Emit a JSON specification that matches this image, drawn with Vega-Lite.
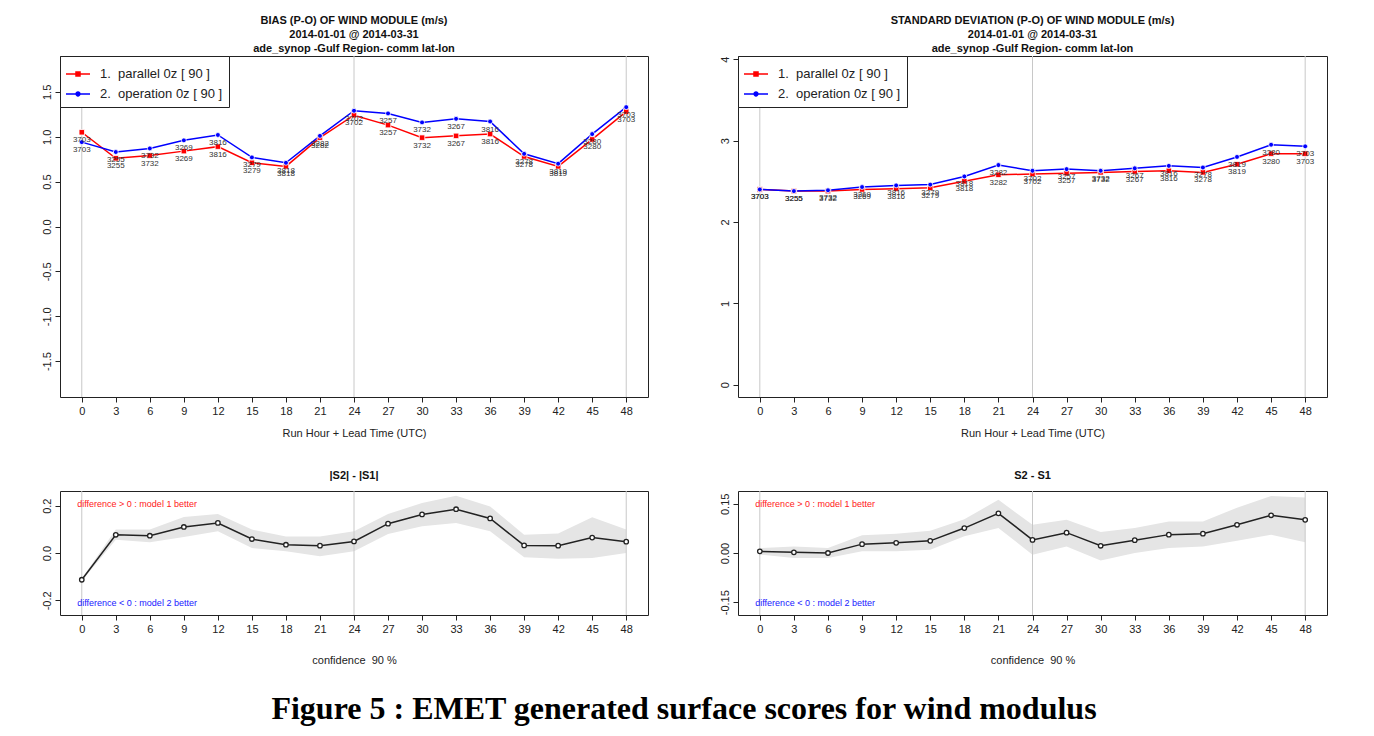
{
  "$schema": "https://vega.github.io/schema/vega-lite/v6.json",
  "background": "white",
  "padding": {"left": 40, "top": 14, "right": 5, "bottom": 5},
  "config": {
    "font": "Liberation Sans",
    "view": {"stroke": "#222", "strokeWidth": 1},
    "axis": {"domain": false, "grid": false, "tickColor": "#222", "tickSize": 5, "labelColor": "#222", "labelFont": "Liberation Sans", "labelFontSize": 11, "titleFont": "Liberation Sans", "titleFontSize": 11, "titleFontWeight": "normal", "titleColor": "#222"},
    "axisX": {"labelPadding": 3},
    "axisY": {"labelAngle": -90, "labelPadding": 3, "title": null, "labelExpr": "replace(datum.label, '\u2212', '-')"},
    "title": {"font": "Liberation Sans", "fontSize": 11, "fontWeight": "bold", "color": "#111", "anchor": "middle", "frame": "group", "lineHeight": 14},
    "legend": {"orient": "top-left", "offset": 0, "padding": 6, "strokeColor": "#222", "fillColor": "white", "labelFont": "Liberation Sans", "labelFontSize": 13, "labelColor": "#222", "symbolSize": 576, "symbolStrokeWidth": 0, "rowPadding": 1, "labelOffset": 10}
  },
  "title": {"text": "Figure 5 : EMET generated surface scores for wind modulus", "orient": "bottom", "font": "Liberation Serif", "fontSize": 32, "fontWeight": "bold", "color": "black", "anchor": "middle", "frame": "bounds", "offset": 28},
  "datasets": {
    "grid": [{"h": 0}, {"h": 24}, {"h": 48}],
    "bias": [
      {"h": 0, "s": "1.\u00a0 parallel 0z [ 90 ]", "v": 1.05, "n": 3703},
      {"h": 3, "s": "1.\u00a0 parallel 0z [ 90 ]", "v": 0.76, "n": 3255},
      {"h": 6, "s": "1.\u00a0 parallel 0z [ 90 ]", "v": 0.79, "n": 3732},
      {"h": 9, "s": "1.\u00a0 parallel 0z [ 90 ]", "v": 0.84, "n": 3269},
      {"h": 12, "s": "1.\u00a0 parallel 0z [ 90 ]", "v": 0.89, "n": 3816},
      {"h": 15, "s": "1.\u00a0 parallel 0z [ 90 ]", "v": 0.71, "n": 3279},
      {"h": 18, "s": "1.\u00a0 parallel 0z [ 90 ]", "v": 0.67, "n": 3818},
      {"h": 21, "s": "1.\u00a0 parallel 0z [ 90 ]", "v": 0.99, "n": 3282},
      {"h": 24, "s": "1.\u00a0 parallel 0z [ 90 ]", "v": 1.24, "n": 3702},
      {"h": 27, "s": "1.\u00a0 parallel 0z [ 90 ]", "v": 1.13, "n": 3257},
      {"h": 30, "s": "1.\u00a0 parallel 0z [ 90 ]", "v": 0.99, "n": 3732},
      {"h": 33, "s": "1.\u00a0 parallel 0z [ 90 ]", "v": 1.01, "n": 3267},
      {"h": 36, "s": "1.\u00a0 parallel 0z [ 90 ]", "v": 1.03, "n": 3816},
      {"h": 39, "s": "1.\u00a0 parallel 0z [ 90 ]", "v": 0.78, "n": 3278},
      {"h": 42, "s": "1.\u00a0 parallel 0z [ 90 ]", "v": 0.67, "n": 3819},
      {"h": 45, "s": "1.\u00a0 parallel 0z [ 90 ]", "v": 0.97, "n": 3280},
      {"h": 48, "s": "1.\u00a0 parallel 0z [ 90 ]", "v": 1.28, "n": 3703},
      {"h": 0, "s": "2.\u00a0 operation 0z [ 90 ]", "v": 0.94, "n": 3703},
      {"h": 3, "s": "2.\u00a0 operation 0z [ 90 ]", "v": 0.83, "n": 3255},
      {"h": 6, "s": "2.\u00a0 operation 0z [ 90 ]", "v": 0.87, "n": 3732},
      {"h": 9, "s": "2.\u00a0 operation 0z [ 90 ]", "v": 0.96, "n": 3269},
      {"h": 12, "s": "2.\u00a0 operation 0z [ 90 ]", "v": 1.02, "n": 3816},
      {"h": 15, "s": "2.\u00a0 operation 0z [ 90 ]", "v": 0.77, "n": 3279},
      {"h": 18, "s": "2.\u00a0 operation 0z [ 90 ]", "v": 0.71, "n": 3818},
      {"h": 21, "s": "2.\u00a0 operation 0z [ 90 ]", "v": 1.01, "n": 3282},
      {"h": 24, "s": "2.\u00a0 operation 0z [ 90 ]", "v": 1.29, "n": 3702},
      {"h": 27, "s": "2.\u00a0 operation 0z [ 90 ]", "v": 1.26, "n": 3257},
      {"h": 30, "s": "2.\u00a0 operation 0z [ 90 ]", "v": 1.16, "n": 3732},
      {"h": 33, "s": "2.\u00a0 operation 0z [ 90 ]", "v": 1.20, "n": 3267},
      {"h": 36, "s": "2.\u00a0 operation 0z [ 90 ]", "v": 1.17, "n": 3816},
      {"h": 39, "s": "2.\u00a0 operation 0z [ 90 ]", "v": 0.81, "n": 3278},
      {"h": 42, "s": "2.\u00a0 operation 0z [ 90 ]", "v": 0.70, "n": 3819},
      {"h": 45, "s": "2.\u00a0 operation 0z [ 90 ]", "v": 1.03, "n": 3280},
      {"h": 48, "s": "2.\u00a0 operation 0z [ 90 ]", "v": 1.33, "n": 3703}
    ],
    "sd": [
      {"h": 0, "s": "1.\u00a0 parallel 0z [ 90 ]", "v": 2.40, "n": 3703},
      {"h": 3, "s": "1.\u00a0 parallel 0z [ 90 ]", "v": 2.38, "n": 3255},
      {"h": 6, "s": "1.\u00a0 parallel 0z [ 90 ]", "v": 2.38, "n": 3732},
      {"h": 9, "s": "1.\u00a0 parallel 0z [ 90 ]", "v": 2.40, "n": 3269},
      {"h": 12, "s": "1.\u00a0 parallel 0z [ 90 ]", "v": 2.41, "n": 3816},
      {"h": 15, "s": "1.\u00a0 parallel 0z [ 90 ]", "v": 2.42, "n": 3279},
      {"h": 18, "s": "1.\u00a0 parallel 0z [ 90 ]", "v": 2.50, "n": 3818},
      {"h": 21, "s": "1.\u00a0 parallel 0z [ 90 ]", "v": 2.58, "n": 3282},
      {"h": 24, "s": "1.\u00a0 parallel 0z [ 90 ]", "v": 2.59, "n": 3702},
      {"h": 27, "s": "1.\u00a0 parallel 0z [ 90 ]", "v": 2.60, "n": 3257},
      {"h": 30, "s": "1.\u00a0 parallel 0z [ 90 ]", "v": 2.61, "n": 3732},
      {"h": 33, "s": "1.\u00a0 parallel 0z [ 90 ]", "v": 2.62, "n": 3267},
      {"h": 36, "s": "1.\u00a0 parallel 0z [ 90 ]", "v": 2.63, "n": 3816},
      {"h": 39, "s": "1.\u00a0 parallel 0z [ 90 ]", "v": 2.61, "n": 3278},
      {"h": 42, "s": "1.\u00a0 parallel 0z [ 90 ]", "v": 2.71, "n": 3819},
      {"h": 45, "s": "1.\u00a0 parallel 0z [ 90 ]", "v": 2.84, "n": 3280},
      {"h": 48, "s": "1.\u00a0 parallel 0z [ 90 ]", "v": 2.84, "n": 3703},
      {"h": 0, "s": "2.\u00a0 operation 0z [ 90 ]", "v": 2.40, "n": 3703},
      {"h": 3, "s": "2.\u00a0 operation 0z [ 90 ]", "v": 2.38, "n": 3255},
      {"h": 6, "s": "2.\u00a0 operation 0z [ 90 ]", "v": 2.39, "n": 3732},
      {"h": 9, "s": "2.\u00a0 operation 0z [ 90 ]", "v": 2.43, "n": 3269},
      {"h": 12, "s": "2.\u00a0 operation 0z [ 90 ]", "v": 2.45, "n": 3816},
      {"h": 15, "s": "2.\u00a0 operation 0z [ 90 ]", "v": 2.46, "n": 3279},
      {"h": 18, "s": "2.\u00a0 operation 0z [ 90 ]", "v": 2.56, "n": 3818},
      {"h": 21, "s": "2.\u00a0 operation 0z [ 90 ]", "v": 2.70, "n": 3282},
      {"h": 24, "s": "2.\u00a0 operation 0z [ 90 ]", "v": 2.63, "n": 3702},
      {"h": 27, "s": "2.\u00a0 operation 0z [ 90 ]", "v": 2.65, "n": 3257},
      {"h": 30, "s": "2.\u00a0 operation 0z [ 90 ]", "v": 2.63, "n": 3732},
      {"h": 33, "s": "2.\u00a0 operation 0z [ 90 ]", "v": 2.66, "n": 3267},
      {"h": 36, "s": "2.\u00a0 operation 0z [ 90 ]", "v": 2.69, "n": 3816},
      {"h": 39, "s": "2.\u00a0 operation 0z [ 90 ]", "v": 2.67, "n": 3278},
      {"h": 42, "s": "2.\u00a0 operation 0z [ 90 ]", "v": 2.80, "n": 3819},
      {"h": 45, "s": "2.\u00a0 operation 0z [ 90 ]", "v": 2.95, "n": 3280},
      {"h": 48, "s": "2.\u00a0 operation 0z [ 90 ]", "v": 2.93, "n": 3703}
    ],
    "dabs": [
      {"h": 0, "v": -0.113, "lo": -0.118, "hi": -0.108},
      {"h": 3, "v": 0.077, "lo": 0.056, "hi": 0.099},
      {"h": 6, "v": 0.073, "lo": 0.045, "hi": 0.099},
      {"h": 9, "v": 0.110, "lo": 0.068, "hi": 0.152},
      {"h": 12, "v": 0.127, "lo": 0.092, "hi": 0.165},
      {"h": 15, "v": 0.059, "lo": 0.021, "hi": 0.099},
      {"h": 18, "v": 0.035, "lo": 0.007, "hi": 0.070},
      {"h": 21, "v": 0.031, "lo": -0.014, "hi": 0.070},
      {"h": 24, "v": 0.049, "lo": 0.007, "hi": 0.092},
      {"h": 27, "v": 0.124, "lo": 0.080, "hi": 0.165},
      {"h": 30, "v": 0.163, "lo": 0.113, "hi": 0.211},
      {"h": 33, "v": 0.185, "lo": 0.127, "hi": 0.242},
      {"h": 36, "v": 0.146, "lo": 0.092, "hi": 0.197},
      {"h": 39, "v": 0.032, "lo": -0.018, "hi": 0.077},
      {"h": 42, "v": 0.031, "lo": -0.024, "hi": 0.082},
      {"h": 45, "v": 0.065, "lo": -0.021, "hi": 0.151},
      {"h": 48, "v": 0.048, "lo": 0.000, "hi": 0.099}
    ],
    "dsd": [
      {"h": 0, "v": 0.005, "lo": -0.005, "hi": 0.015},
      {"h": 3, "v": 0.002, "lo": -0.015, "hi": 0.020},
      {"h": 6, "v": 0.000, "lo": -0.015, "hi": 0.015},
      {"h": 9, "v": 0.027, "lo": 0.005, "hi": 0.054},
      {"h": 12, "v": 0.031, "lo": 0.005, "hi": 0.059},
      {"h": 15, "v": 0.037, "lo": 0.010, "hi": 0.068},
      {"h": 18, "v": 0.076, "lo": 0.051, "hi": 0.103},
      {"h": 21, "v": 0.121, "lo": 0.076, "hi": 0.162},
      {"h": 24, "v": 0.040, "lo": -0.005, "hi": 0.086},
      {"h": 27, "v": 0.062, "lo": 0.020, "hi": 0.101},
      {"h": 30, "v": 0.022, "lo": -0.023, "hi": 0.064},
      {"h": 33, "v": 0.039, "lo": 0.000, "hi": 0.076},
      {"h": 36, "v": 0.056, "lo": 0.015, "hi": 0.096},
      {"h": 39, "v": 0.059, "lo": 0.020, "hi": 0.096},
      {"h": 42, "v": 0.086, "lo": 0.037, "hi": 0.138},
      {"h": 45, "v": 0.115, "lo": 0.056, "hi": 0.174},
      {"h": 48, "v": 0.101, "lo": 0.033, "hi": 0.169}
    ],
    "notesL": [
      {"h": -0.4, "v": 0.205, "k": "pos", "label": "difference > 0 : model 1 better"},
      {"h": -0.4, "v": -0.21, "k": "neg", "label": "difference < 0 : model 2 better"}
    ],
    "notesR": [
      {"h": -0.4, "v": 0.148, "k": "pos", "label": "difference > 0 : model 1 better"},
      {"h": -0.4, "v": -0.152, "k": "neg", "label": "difference < 0 : model 2 better"}
    ]
  },
  "spacing": 30,
  "resolve": {"scale": {"color": "independent", "shape": "independent"}, "legend": {"color": "independent", "shape": "independent"}},
  "vconcat": [
    {
      "spacing": 69,
      "resolve": {"scale": {"color": "independent", "shape": "independent"}, "legend": {"color": "independent", "shape": "independent"}},
      "hconcat": [
        {
          "width": 588, "height": 341,
          "title": {"text": ["BIAS (P-O) OF WIND MODULE (m/s)", "2014-01-01 @ 2014-03-31", "ade_synop -Gulf Region- comm lat-lon"], "offset": 2},
          "encoding": {"x": {"field": "h", "type": "quantitative", "scale": {"domain": [-1.92, 49.92], "nice": false, "zero": false}, "axis": {"values": [0, 3, 6, 9, 12, 15, 18, 21, 24, 27, 30, 33, 36, 39, 42, 45, 48], "title": "Run Hour + Lead Time (UTC)", "titlePadding": 11}}},
          "layer": [
            {"data": {"name": "grid"}, "mark": {"type": "rule", "color": "#c8c8c8", "strokeWidth": 1}},
            {"data": {"values": [{}]}, "mark": {"type": "rule", "color": "#d4d4d4", "strokeWidth": 1.6}, "encoding": {"x": {"datum": -1.92}, "x2": {"datum": 49.92}, "y": {"datum": 0}}},
            {"data": {"name": "bias"}, "transform": [{"filter": "indexof(datum.s, 'parallel') >= 0"}], "mark": {"type": "line", "strokeWidth": 1.5, "color": "#ff0000"},
             "encoding": {"y": {"field": "v", "type": "quantitative", "scale": {"domain": [-1.9, 1.9], "nice": false, "zero": false}, "axis": {"values": [-1.5, -1, -0.5, 0, 0.5, 1, 1.5], "format": ".1f"}}}},
            {"data": {"name": "bias"}, "transform": [{"filter": "indexof(datum.s, 'operation') >= 0"}], "mark": {"type": "line", "strokeWidth": 1.5, "color": "#0000ff"},
             "encoding": {"y": {"field": "v", "type": "quantitative"}}},
            {"data": {"name": "bias"}, "transform": [{"filter": "indexof(datum.s, 'parallel') >= 0"}], "mark": {"type": "point", "shape": "square", "filled": true, "opacity": 1, "size": 30, "color": "#ff0000", "stroke": "white", "strokeWidth": 0.8},
             "encoding": {"y": {"field": "v", "type": "quantitative"}}},
            {"data": {"name": "bias"}, "transform": [{"filter": "indexof(datum.s, 'operation') >= 0"}], "mark": {"type": "point", "shape": "circle", "filled": true, "opacity": 1, "size": 24, "color": "#0000ff", "stroke": "white", "strokeWidth": 0.8},
             "encoding": {"y": {"field": "v", "type": "quantitative"}}},
            {"data": {"name": "bias"}, "mark": {"type": "text", "fontSize": 8, "color": "#333", "dy": 8, "baseline": "middle"},
             "encoding": {"y": {"field": "v", "type": "quantitative"}, "text": {"field": "n", "type": "nominal"}}},
            {"data": {"name": "bias"}, "transform": [{"filter": "false"}], "mark": {"type": "point", "filled": true, "opacity": 1},
             "encoding": {"y": {"field": "v", "type": "quantitative"},
                          "color": {"field": "s", "type": "nominal", "scale": {"domain": ["1.\u00a0 parallel 0z [ 90 ]", "2.\u00a0 operation 0z [ 90 ]"], "range": ["#ff0000", "#0000ff"]}, "legend": {"title": null}},
                          "shape": {"field": "s", "type": "nominal", "scale": {"domain": ["1.\u00a0 parallel 0z [ 90 ]", "2.\u00a0 operation 0z [ 90 ]"], "range": ["M-1,-0.065H1V0.065H-1Z M-0.23,-0.23H0.23V0.23H-0.23Z", "M-1,-0.065H1V0.065H-1Z M0.22,0A0.22,0.22 0 1,1 -0.22,0A0.22,0.22 0 1,1 0.22,0Z"]}, "legend": {"title": null}}}}
          ]
        },
        {
          "width": 589, "height": 341,
          "title": {"text": ["STANDARD DEVIATION (P-O) OF WIND MODULE (m/s)", "2014-01-01 @ 2014-03-31", "ade_synop -Gulf Region- comm lat-lon"], "offset": 2},
          "encoding": {"x": {"field": "h", "type": "quantitative", "scale": {"domain": [-1.92, 49.92], "nice": false, "zero": false}, "axis": {"values": [0, 3, 6, 9, 12, 15, 18, 21, 24, 27, 30, 33, 36, 39, 42, 45, 48], "title": "Run Hour + Lead Time (UTC)", "titlePadding": 11}}},
          "layer": [
            {"data": {"name": "grid"}, "mark": {"type": "rule", "color": "#c8c8c8", "strokeWidth": 1}},
            {"data": {"values": [{}]}, "mark": {"type": "rule", "color": "#d4d4d4", "strokeWidth": 1.6}, "encoding": {"x": {"datum": -1.92}, "x2": {"datum": 49.92}, "y": {"datum": 0}}},
            {"data": {"name": "sd"}, "transform": [{"filter": "indexof(datum.s, 'parallel') >= 0"}], "mark": {"type": "line", "strokeWidth": 1.5, "color": "#ff0000"},
             "encoding": {"y": {"field": "v", "type": "quantitative", "scale": {"domain": [-0.15, 4.04], "nice": false, "zero": false}, "axis": {"values": [0, 1, 2, 3, 4], "format": "d"}}}},
            {"data": {"name": "sd"}, "transform": [{"filter": "indexof(datum.s, 'operation') >= 0"}], "mark": {"type": "line", "strokeWidth": 1.5, "color": "#0000ff"},
             "encoding": {"y": {"field": "v", "type": "quantitative"}}},
            {"data": {"name": "sd"}, "transform": [{"filter": "indexof(datum.s, 'parallel') >= 0"}], "mark": {"type": "point", "shape": "square", "filled": true, "opacity": 1, "size": 30, "color": "#ff0000", "stroke": "white", "strokeWidth": 0.8},
             "encoding": {"y": {"field": "v", "type": "quantitative"}}},
            {"data": {"name": "sd"}, "transform": [{"filter": "indexof(datum.s, 'operation') >= 0"}], "mark": {"type": "point", "shape": "circle", "filled": true, "opacity": 1, "size": 24, "color": "#0000ff", "stroke": "white", "strokeWidth": 0.8},
             "encoding": {"y": {"field": "v", "type": "quantitative"}}},
            {"data": {"name": "sd"}, "mark": {"type": "text", "fontSize": 8, "color": "#333", "dy": 8, "baseline": "middle"},
             "encoding": {"y": {"field": "v", "type": "quantitative"}, "text": {"field": "n", "type": "nominal"}}},
            {"data": {"name": "sd"}, "transform": [{"filter": "false"}], "mark": {"type": "point", "filled": true, "opacity": 1},
             "encoding": {"y": {"field": "v", "type": "quantitative"},
                          "color": {"field": "s", "type": "nominal", "scale": {"domain": ["1.\u00a0 parallel 0z [ 90 ]", "2.\u00a0 operation 0z [ 90 ]"], "range": ["#ff0000", "#0000ff"]}, "legend": {"title": null}},
                          "shape": {"field": "s", "type": "nominal", "scale": {"domain": ["1.\u00a0 parallel 0z [ 90 ]", "2.\u00a0 operation 0z [ 90 ]"], "range": ["M-1,-0.065H1V0.065H-1Z M-0.23,-0.23H0.23V0.23H-0.23Z", "M-1,-0.065H1V0.065H-1Z M0.22,0A0.22,0.22 0 1,1 -0.22,0A0.22,0.22 0 1,1 0.22,0Z"]}, "legend": {"title": null}}}}
          ]
        }
      ]
    },
    {
      "spacing": 69,
      "resolve": {"scale": {"color": "independent", "shape": "independent"}, "legend": {"color": "independent", "shape": "independent"}},
      "hconcat": [
        {
          "width": 588, "height": 124,
          "title": {"text": "|S2| - |S1|", "offset": 10},
          "encoding": {"x": {"field": "h", "type": "quantitative", "scale": {"domain": [-1.92, 49.92], "nice": false, "zero": false}, "axis": {"values": [0, 3, 6, 9, 12, 15, 18, 21, 24, 27, 30, 33, 36, 39, 42, 45, 48], "title": "confidence\u00a0 90 %", "titlePadding": 20}}},
          "layer": [
            {"data": {"name": "dabs"}, "mark": {"type": "area", "color": "#e5e5e5", "opacity": 1},
             "encoding": {"y": {"field": "lo", "type": "quantitative", "scale": {"domain": [-0.262, 0.262], "nice": false, "zero": false}, "axis": {"values": [-0.2, 0, 0.2], "format": ".1f"}}, "y2": {"field": "hi"}}},
            {"data": {"name": "grid"}, "mark": {"type": "rule", "color": "#c8c8c8", "strokeWidth": 1}},
            {"data": {"values": [{}]}, "mark": {"type": "rule", "color": "#d4d4d4", "strokeWidth": 1.6}, "encoding": {"x": {"datum": -1.92}, "x2": {"datum": 49.92}, "y": {"datum": 0}}},
            {"data": {"name": "dabs"}, "mark": {"type": "line", "color": "#222", "strokeWidth": 1.5}, "encoding": {"y": {"field": "v", "type": "quantitative"}}},
            {"data": {"name": "dabs"}, "mark": {"type": "point", "shape": "circle", "fill": "white", "stroke": "#222", "strokeWidth": 1.3, "size": 20, "opacity": 1}, "encoding": {"y": {"field": "v", "type": "quantitative"}}},
            {"data": {"name": "notesL"}, "mark": {"type": "text", "align": "left", "baseline": "middle", "fontSize": 9},
             "encoding": {"y": {"field": "v", "type": "quantitative"}, "text": {"field": "label"},
                          "color": {"field": "k", "type": "nominal", "scale": {"domain": ["pos", "neg"], "range": ["#ff2020", "#2020ff"]}, "legend": null}}}
          ]
        },
        {
          "width": 589, "height": 124,
          "title": {"text": "S2 - S1", "offset": 10},
          "encoding": {"x": {"field": "h", "type": "quantitative", "scale": {"domain": [-1.92, 49.92], "nice": false, "zero": false}, "axis": {"values": [0, 3, 6, 9, 12, 15, 18, 21, 24, 27, 30, 33, 36, 39, 42, 45, 48], "title": "confidence\u00a0 90 %", "titlePadding": 20}}},
          "layer": [
            {"data": {"name": "dsd"}, "mark": {"type": "area", "color": "#e5e5e5", "opacity": 1},
             "encoding": {"y": {"field": "lo", "type": "quantitative", "scale": {"domain": [-0.189, 0.189], "nice": false, "zero": false}, "axis": {"values": [-0.15, 0, 0.15], "format": ".2f"}}, "y2": {"field": "hi"}}},
            {"data": {"name": "grid"}, "mark": {"type": "rule", "color": "#c8c8c8", "strokeWidth": 1}},
            {"data": {"values": [{}]}, "mark": {"type": "rule", "color": "#d4d4d4", "strokeWidth": 1.6}, "encoding": {"x": {"datum": -1.92}, "x2": {"datum": 49.92}, "y": {"datum": 0}}},
            {"data": {"name": "dsd"}, "mark": {"type": "line", "color": "#222", "strokeWidth": 1.5}, "encoding": {"y": {"field": "v", "type": "quantitative"}}},
            {"data": {"name": "dsd"}, "mark": {"type": "point", "shape": "circle", "fill": "white", "stroke": "#222", "strokeWidth": 1.3, "size": 20, "opacity": 1}, "encoding": {"y": {"field": "v", "type": "quantitative"}}},
            {"data": {"name": "notesR"}, "mark": {"type": "text", "align": "left", "baseline": "middle", "fontSize": 9},
             "encoding": {"y": {"field": "v", "type": "quantitative"}, "text": {"field": "label"},
                          "color": {"field": "k", "type": "nominal", "scale": {"domain": ["pos", "neg"], "range": ["#ff2020", "#2020ff"]}, "legend": null}}}
          ]
        }
      ]
    }
  ]
}
